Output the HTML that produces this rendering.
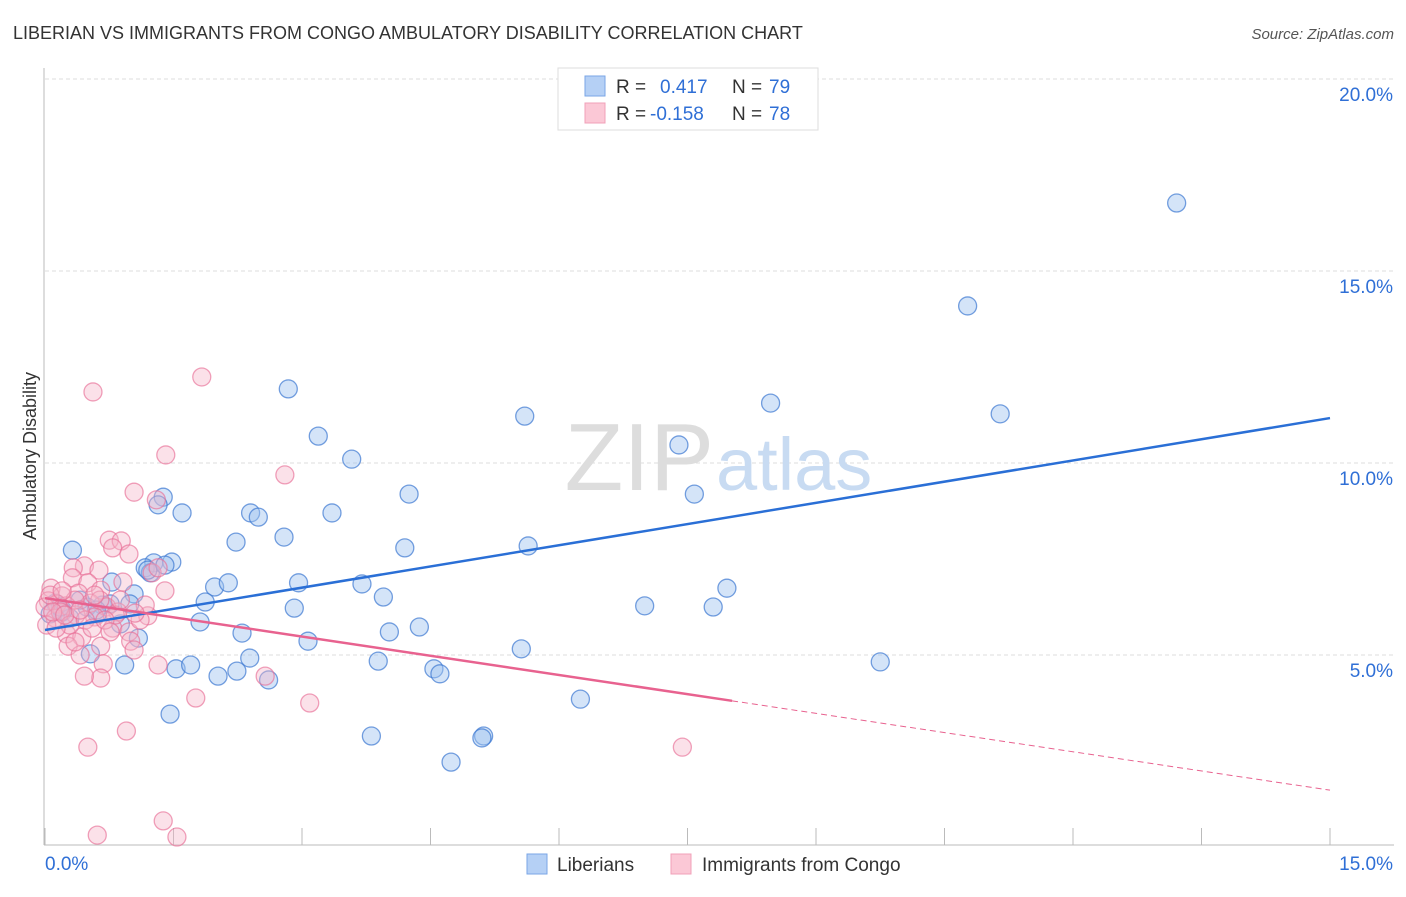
<!DOCTYPE html>
<html><head><meta charset="utf-8"><style>
body{margin:0;background:#fff;font-family:"Liberation Sans",sans-serif}
svg text{font-family:"Liberation Sans",sans-serif}
</style></head><body>
<svg id="chart" width="1406" height="892">
<text x="13" y="39" font-size="18" fill="#333">LIBERIAN VS IMMIGRANTS FROM CONGO AMBULATORY DISABILITY CORRELATION CHART</text>
<text x="1394" y="39" font-size="15" fill="#555" font-style="italic" text-anchor="end">Source: ZipAtlas.com</text>
<text x="36" y="456" font-size="18" fill="#333" transform="rotate(-90 36 456)" text-anchor="middle">Ambulatory Disability</text>
<g id="grid"></g>
<text x="714" y="490" font-size="96" fill="#ddd" text-anchor="end" font-family="Liberation Serif">ZIP</text>
<text x="716" y="490" font-size="74" fill="#c8dbf2">atlas</text>
<g id="marks"></g>
<g>
<rect x="558" y="68" width="260" height="62" fill="#fff" stroke="#ddd"/>
<rect x="585" y="76" width="20" height="20" fill="#b5d0f5" stroke="#7aa6e6"/>
<rect x="585" y="103" width="20" height="20" fill="#fbc8d6" stroke="#f0a0b8"/>
<text x="616" y="93" font-size="19" fill="#333">R = </text><text x="660" y="93" font-size="19" fill="#2f6fd6">0.417</text>
<text x="732" y="93" font-size="19" fill="#333">N = </text><text x="769" y="93" font-size="19" fill="#2f6fd6">79</text>
<text x="616" y="120" font-size="19" fill="#333">R = </text><text x="650" y="120" font-size="19" fill="#2f6fd6">-0.158</text>
<text x="732" y="120" font-size="19" fill="#333">N = </text><text x="769" y="120" font-size="19" fill="#2f6fd6">78</text>
</g>
<g>
<rect x="527" y="854" width="20" height="20" fill="#b5d0f5" stroke="#7aa6e6"/>
<text x="557" y="871" font-size="19" fill="#333">Liberians</text>
<rect x="671" y="854" width="20" height="20" fill="#fbc8d6" stroke="#f0a0b8"/>
<text x="702" y="871" font-size="19" fill="#333">Immigrants from Congo</text>
</g>
</svg>
<script>
const xTicks=[0,1.5,3,4.5,6,7.5,9,10.5,12,13.5,15];
const yTicks=[5,10,15,20];
const yTickLabels=["5.0%","10.0%","15.0%","20.0%"];
const blueX=[13.21,10.77,2.84,5.60,8.47,11.15,3.19,7.40,3.58,4.25,7.58,1.38,1.32,1.60,2.40,2.49,3.35,2.79,2.23,0.32,4.20,5.64,1.27,1.48,1.17,1.23,0.78,1.98,2.14,2.96,3.70,7.96,1.04,1.87,3.95,0.99,0.67,0.49,0.12,0.21,0.61,0.88,1.81,7.00,7.80,2.91,2.30,4.02,4.37,1.09,3.07,0.20,0.53,5.56,9.75,2.39,0.93,1.53,1.70,3.89,2.02,2.24,4.54,4.61,2.61,6.25,1.46,3.81,5.12,5.10,4.74,0.06,0.29,0.41,0.76,0.18,0.60,1.20,1.40];
const blueY=[16.77,14.09,11.93,11.22,11.56,11.28,10.70,10.47,10.10,9.19,9.19,9.11,8.91,8.70,8.70,8.59,8.70,8.07,7.94,7.73,7.79,7.84,7.40,7.42,7.27,7.14,6.90,6.77,6.88,6.88,6.85,6.74,6.59,6.38,6.51,6.33,6.30,6.25,6.35,6.15,6.07,5.81,5.86,6.28,6.25,6.22,5.57,5.60,5.73,5.44,5.36,6.12,5.03,5.16,4.82,4.92,4.74,4.64,4.74,4.84,4.45,4.58,4.64,4.51,4.35,3.85,3.46,2.89,2.89,2.84,2.21,6.07,5.96,6.43,6.33,6.25,6.17,7.21,7.34];
const pinkX=[0.56,1.83,1.41,2.80,1.04,1.30,0.75,0.89,0.79,0.98,0.46,0.63,0.33,1.25,1.32,0.32,0.50,0.91,1.40,0.07,0.20,0.39,0.65,0.04,0.14,0,0.25,0.53,0.72,0.85,1.20,0.12,0.36,0.58,0.02,0.25,0.43,0.79,0.98,1.00,0.27,0.65,0.41,1.04,1.32,0.68,2.57,0.65,0.46,1.76,3.09,0.95,0.50,7.44,1.38,0.61,1.54,0.18,0.06,0.29,0.47,0.64,0.82,0.35,0.13,0.55,1.11,0.88,0.20,0.70,0.09,1.17,0.23,0.41,0.58,0.76,1.05,0.35];
const pinkY=[11.85,12.24,10.21,9.69,9.24,9.04,7.99,7.97,7.79,7.63,7.32,7.21,7.27,7.14,7.27,7.01,6.88,6.90,6.67,6.74,6.54,6.61,6.69,6.41,6.33,6.25,6.28,6.35,6.25,6.12,6.02,5.96,6.04,5.99,5.78,5.55,5.47,5.70,5.60,5.36,5.23,5.23,5.00,5.13,4.74,4.77,4.45,4.40,4.45,3.88,3.75,3.02,2.60,2.60,0.68,0.31,0.26,6.12,6.56,5.78,5.91,6.43,6.04,6.43,5.70,5.70,5.91,6.43,6.67,5.91,6.12,6.30,6.04,6.17,6.56,5.60,6.09,5.34];
const blueTrend=[5.65,11.17];
const pinkTrend=[6.48,1.48];
const pinkSolidEnd=8.02;
const X=v=>45+v/15*1285, Y=v=>847-v*38.4;
const NS="http://www.w3.org/2000/svg";
function mk(tag,attrs,parent){const e=document.createElementNS(NS,tag);for(const k in attrs)e.setAttribute(k,attrs[k]);parent.appendChild(e);return e;}
const grid=document.getElementById('grid'),marks=document.getElementById('marks');
yTicks.forEach((t,i)=>{
 const l=mk('line',{x1:45,x2:1394,y1:Y(t),y2:Y(t),stroke:'#ddd','stroke-dasharray':'4,3'},grid);
 
 
 const tx=mk('text',{x:1393,y:Y(t)+22,'font-size':19,fill:'#2f6fd6','text-anchor':'end'},grid);tx.textContent=yTickLabels[i];
 
 
});
const ax=mk('line',{x1:44,x2:44,y1:68,y2:845,stroke:'#bbb'},grid);


const bx=mk('line',{x1:44,x2:1394,y1:845,y2:845,stroke:'#bbb'},grid);


xTicks.forEach(t=>{const l=mk('line',{x1:X(t),x2:X(t),y1:828,y2:845,stroke:'#bbb'},grid);
 
 });
const t0=mk('text',{x:45,y:870,'font-size':19,fill:'#2f6fd6'},grid);t0.textContent='0.0%';


const t1=mk('text',{x:1393,y:870,'font-size':19,fill:'#2f6fd6','text-anchor':'end'},grid);t1.textContent='15.0%';


blueX.forEach((x,i)=>{const c=mk('circle',{cx:X(x),cy:Y(blueY[i]),r:9,fill:'rgba(160,195,240,0.45)',stroke:'rgba(60,120,210,0.7)','stroke-width':1.3},marks);
 
 });
pinkX.forEach((x,i)=>{const c=mk('circle',{cx:X(x),cy:Y(pinkY[i]),r:9,fill:'rgba(246,180,200,0.4)',stroke:'rgba(232,110,150,0.65)','stroke-width':1.3},marks);
 
 });
const bl=mk('line',{x1:X(0),y1:Y(blueTrend[0]),x2:X(15),y2:Y(blueTrend[1]),stroke:'#2a6fd6','stroke-width':2.5},marks);


const pm=pinkTrend[0]+(pinkTrend[1]-pinkTrend[0])*pinkSolidEnd/15;
const pl=mk('line',{x1:X(0),y1:Y(pinkTrend[0]),x2:X(pinkSolidEnd),y2:Y(pm),stroke:'#e8628f','stroke-width':2.5},marks);


const pd=mk('line',{x1:X(pinkSolidEnd),y1:Y(pm),x2:X(15),y2:Y(pinkTrend[1]),stroke:'#e8628f','stroke-width':1,'stroke-dasharray':'6,4'},marks);


</script>
</body></html>
